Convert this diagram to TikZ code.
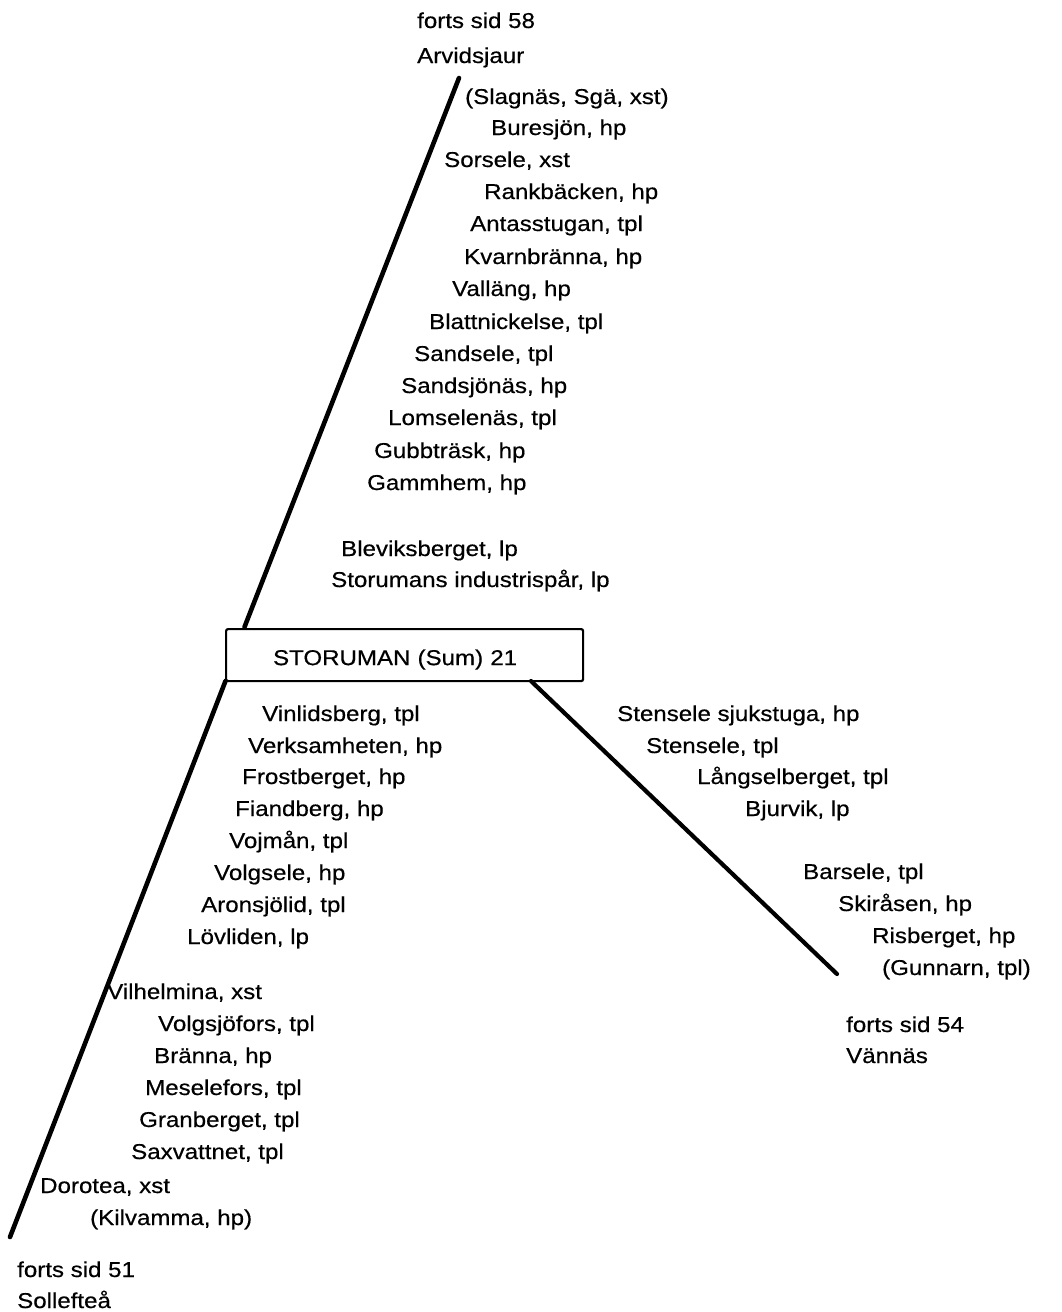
\documentclass[tikz,border=0pt]{standalone}
\usepackage{fontspec}
\setmainfont[FakeStretch=1.12,FakeBold=0.5]{Liberation Sans}
\begin{document}
\begin{tikzpicture}[x=1pt,y=-1pt,
  stn/.style={anchor=base west,inner sep=0pt,font=\fontsize{21.5}{24}\selectfont},
  track/.style={line width=4.6pt,line cap=round},
  boxst/.style={draw,line width=2.2pt,rounded corners=2pt,anchor=north west,
    minimum height=52pt,text width=263pt,inner xsep=47pt,align=left,
    text height=20pt,text depth=0pt,
    font=\fontsize{21.5}{24}\selectfont}]
\useasboundingbox (0,0) rectangle (1062,1312);
% station box
\node[boxst] (sum) at (225,628) {STORUMAN (Sum) 21};
% track end points
\coordinate (ntop) at (459,78);
\coordinate (nbot) at (244.5,627);
\coordinate (stop) at (225.5,681);
\coordinate (sbot) at (10,1237);
\coordinate (etop) at (531,681);
\coordinate (ebot) at (837,974);
\draw[track] (ntop) -- (nbot);
\draw[track] (stop) -- (sbot);
\draw[track,line width=4.2pt] (etop) -- (ebot);
% north branch
\node[stn] (n1) at (417,28) {forts sid 58};
\node[stn] (n2) at (417,63) {Arvidsjaur};
\node[stn] (n3) at (465,104) {(Slagnäs, Sgä, xst)};
\node[stn] (n4) at (491,135) {Buresjön, hp};
\node[stn] (n5) at (444,167) {Sorsele, xst};
\node[stn] (n6) at (484,199) {Rankbäcken, hp};
\node[stn] (n7) at (470,231) {Antasstugan, tpl};
\node[stn] (n8) at (464,264) {Kvarnbränna, hp};
\node[stn] (n9) at (452,296) {Valläng, hp};
\node[stn] (n10) at (429,329) {Blattnickelse, tpl};
\node[stn] (n11) at (414,361) {Sandsele, tpl};
\node[stn] (n12) at (401,393) {Sandsjönäs, hp};
\node[stn] (n13) at (388,425) {Lomselenäs, tpl};
\node[stn] (n14) at (374,458) {Gubbträsk, hp};
\node[stn] (n15) at (367,490) {Gammhem, hp};
\node[stn] (n16) at (341,556) {Bleviksberget, lp};
\node[stn] (n17) at (331,587) {Storumans industrispår, lp};
% south branch
\node[stn] (s1) at (262,721) {Vinlidsberg, tpl};
\node[stn] (s2) at (248,753) {Verksamheten, hp};
\node[stn] (s3) at (242,784) {Frostberget, hp};
\node[stn] (s4) at (235,816) {Fiandberg, hp};
\node[stn] (s5) at (229,848) {Vojmån, tpl};
\node[stn] (s6) at (214,880) {Volgsele, hp};
\node[stn] (s7) at (201,912) {Aronsjölid, tpl};
\node[stn] (s8) at (187,944) {Lövliden, lp};
\node[stn] (s9) at (107,999) {Vilhelmina, xst};
\node[stn] (s10) at (158,1031) {Volgsjöfors, tpl};
\node[stn] (s11) at (154,1063) {Bränna, hp};
\node[stn] (s12) at (145,1095) {Meselefors, tpl};
\node[stn] (s13) at (139,1127) {Granberget, tpl};
\node[stn] (s14) at (131,1159) {Saxvattnet, tpl};
\node[stn] (s15) at (40,1193) {Dorotea, xst};
\node[stn] (s16) at (90,1225) {(Kilvamma, hp)};
\node[stn] (s17) at (17,1277) {forts sid 51};
\node[stn] (s18) at (17,1308) {Sollefteå};
% east branch
\node[stn] (e1) at (617,721) {Stensele sjukstuga, hp};
\node[stn] (e2) at (646,753) {Stensele, tpl};
\node[stn] (e3) at (697,784) {Långselberget, tpl};
\node[stn] (e4) at (745,816) {Bjurvik, lp};
\node[stn] (e5) at (803,879) {Barsele, tpl};
\node[stn] (e6) at (838,911) {Skiråsen, hp};
\node[stn] (e7) at (872,943) {Risberget, hp};
\node[stn] (e8) at (882,975) {(Gunnarn, tpl)};
\node[stn] (e9) at (846,1032) {forts sid 54};
\node[stn] (e10) at (846,1063) {Vännäs};
\end{tikzpicture}
\end{document}
